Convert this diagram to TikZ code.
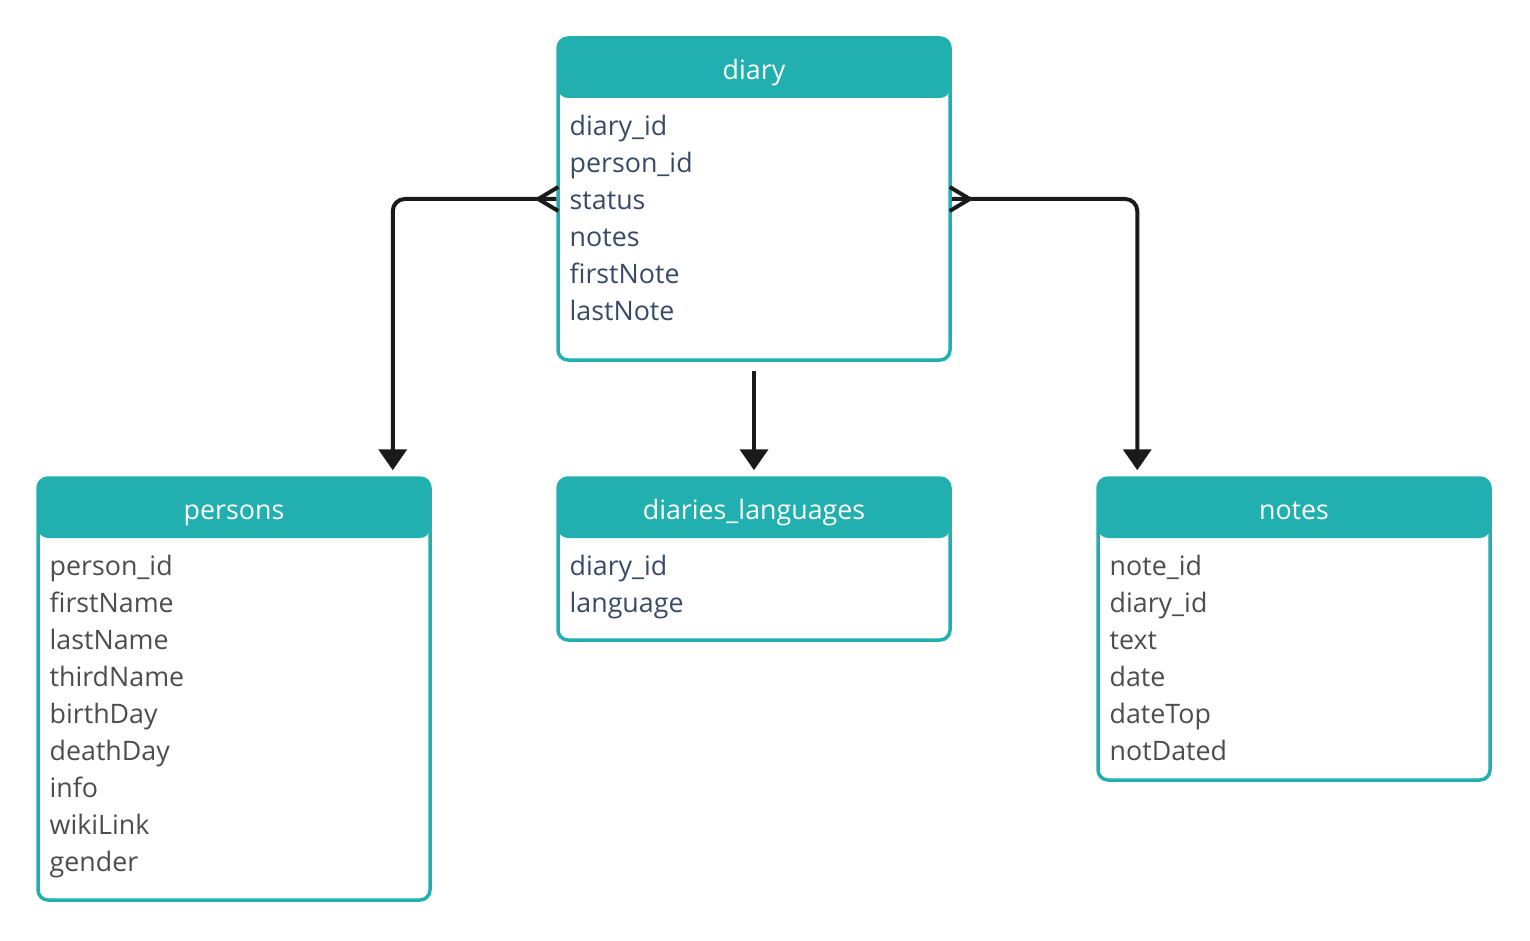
\documentclass[tikz,border=0pt]{standalone}
\usepackage{fontspec}
\setmainfont{Open Sans}
\usetikzlibrary{arrows.meta}

\definecolor{tealhead}{RGB}{34,175,175}
\definecolor{rowgray}{RGB}{77,77,77}
\definecolor{rowblue}{RGB}{58,74,102}
\definecolor{linkblack}{RGB}{26,26,26}

\tikzset{
  tbl/.style={draw=tealhead, line width=1.75pt, rounded corners=5pt, fill=white,
    minimum width=196pt, inner sep=0pt,
    path picture={\fill[tealhead] (path picture bounding box.north west) rectangle ([yshift=-30pt]path picture bounding box.north east);}},
  title/.style={text=white, font=\fontsize{13.4}{15}\selectfont, inner sep=0pt, anchor=base},
  row/.style={font=\fontsize{13.4}{15}\selectfont, inner sep=0pt, anchor=base west},
  link/.style={draw=linkblack, line width=2pt, rounded corners=6pt},
  tip/.style={-{Triangle[width=14pt, length=10.5pt]}},
}

\begin{document}
\begin{tikzpicture}[x=0.5pt, y=-0.5pt]
  \useasboundingbox (0,0) rectangle (1530,941);

  % tables
  \node[tbl, minimum height=161pt] (diary) at (754,199) {};
  \node[tbl, minimum height=211pt] (persons) at (234,689) {};
  \node[tbl, minimum height=81pt] (langs) at (754,559) {};
  \node[tbl, minimum height=151pt] (notes) at (1294,629) {};

  % titles
  \node[title] (diary-title) at ([yshift=-21.5pt]diary.north) {diary};
  \node[title] (persons-title) at ([yshift=-21.5pt]persons.north) {persons};
  \node[title] (langs-title) at ([yshift=-21.5pt]langs.north) {diaries\_languages};
  \node[title] (notes-title) at ([yshift=-21.5pt]notes.north) {notes};

  % rows
  \foreach \t [count=\i] in {diary\_id, person\_id, status, notes, firstNote, lastNote}
    \node[row, text=rowblue] (diary-\i) at ([xshift=6.5pt, yshift={-49.5pt-(\i-1)*18.5pt}]diary.north west) {\t};
  \foreach \t [count=\i] in {person\_id, firstName, lastName, thirdName, birthDay, deathDay, info, wikiLink, gender}
    \node[row, text=rowgray] (persons-\i) at ([xshift=6.5pt, yshift={-49.5pt-(\i-1)*18.5pt}]persons.north west) {\t};
  \foreach \t [count=\i] in {diary\_id, language}
    \node[row, text=rowblue] (langs-\i) at ([xshift=6.5pt, yshift={-49.5pt-(\i-1)*18.5pt}]langs.north west) {\t};
  \foreach \t [count=\i] in {note\_id, diary\_id, text, date, dateTop, notDated}
    \node[row, text=rowgray] (notes-\i) at ([xshift=6.5pt, yshift={-49.5pt-(\i-1)*18.5pt}]notes.north west) {\t};

  % links
  \draw[link, tip] (diary.west) -| ([xshift=-19.5pt, yshift=3pt]persons.north east);
  \draw[link, tip] (diary.east) -| ([xshift=20.5pt, yshift=3pt]notes.north west);
  \draw[link, tip] ([yshift=-4.5pt]diary.south) -- ([yshift=3pt]langs.north);

  % crow's feet
  \draw[link, rounded corners=0pt] ([xshift=1pt, yshift=6pt]diary.west) -- ([xshift=-9pt]diary.west) -- ([xshift=1pt, yshift=-6pt]diary.west);
  \draw[link, rounded corners=0pt] ([xshift=-1pt, yshift=6pt]diary.east) -- ([xshift=9pt]diary.east) -- ([xshift=-1pt, yshift=-6pt]diary.east);
\end{tikzpicture}
\end{document}
